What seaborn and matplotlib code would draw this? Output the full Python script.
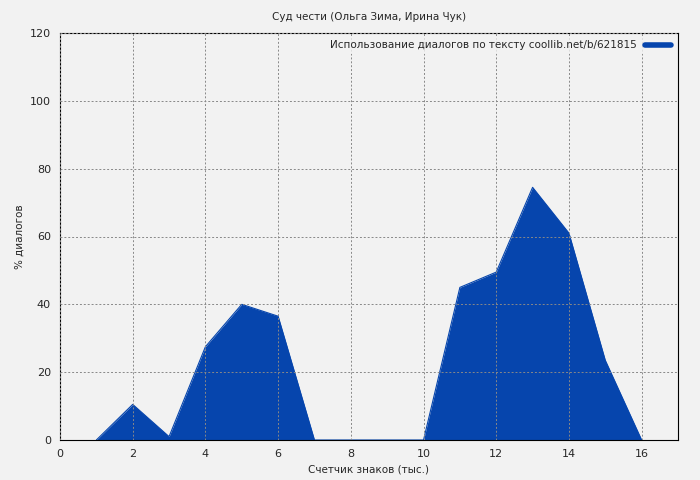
import matplotlib
matplotlib.use("Agg")
import matplotlib.pyplot as plt
from matplotlib.lines import Line2D
import seaborn as sns

# data
x_thousands = [1, 2, 3, 4, 5, 6, 7, 8, 9, 10, 11, 12, 13, 14, 15, 16]
dialog_pct = [0, 10.5, 1, 27.5, 40, 36.5, 0, 0, 0, 0, 45, 49.5, 74.5, 61, 23.5, 0]

title = "Суд чести (Ольга Зима, Ирина Чук)"
legend_label = "Использование диалогов по тексту coollib.net/b/621815"
fill_color = "#0645ad"

sns.set_style("white")
plt.rcParams["font.family"] = ["DejaVu Sans"]

fig = plt.figure(figsize=(7, 4.8), dpi=100, facecolor="#f2f2f2")
ax = fig.add_axes([60 / 700, 40 / 480, 618 / 700, 407 / 480])
ax.set_facecolor("#f2f2f2")

sns.lineplot(x=x_thousands, y=dialog_pct, ax=ax, color=fill_color, linewidth=0.8)
ax.fill_between(x_thousands, dialog_pct, 0, color=fill_color, linewidth=0)

ax.set_xlim(0, 17)
ax.set_ylim(0, 120)
ax.set_xticks(range(0, 17, 2))
ax.set_yticks(range(0, 121, 20))
ax.grid(True, color="#888888", linestyle=(0, (2, 2)), linewidth=0.7)
ax.set_axisbelow(False)
for s in ax.spines.values():
    s.set_color("black")
    s.set_linewidth(0.8)
ax.tick_params(labelsize=8, direction="out", length=3)

ax.set_xlabel("Счетчик знаков (тыс.)", fontsize=7.5)
ax.set_ylabel("% диалогов", fontsize=7.5)
fig.text(0.527, 0.965, title, ha="center", va="center", fontsize=7.5)

handle = Line2D([], [], color=fill_color, linewidth=4)
leg = ax.legend([handle], [legend_label], loc="upper right", fontsize=7.5,
                frameon=True, facecolor="#f2f2f2", edgecolor="none",
                markerfirst=False, handlelength=2.5, borderaxespad=0.3)

fig.savefig("out.png", dpi=100, facecolor=fig.get_facecolor())
